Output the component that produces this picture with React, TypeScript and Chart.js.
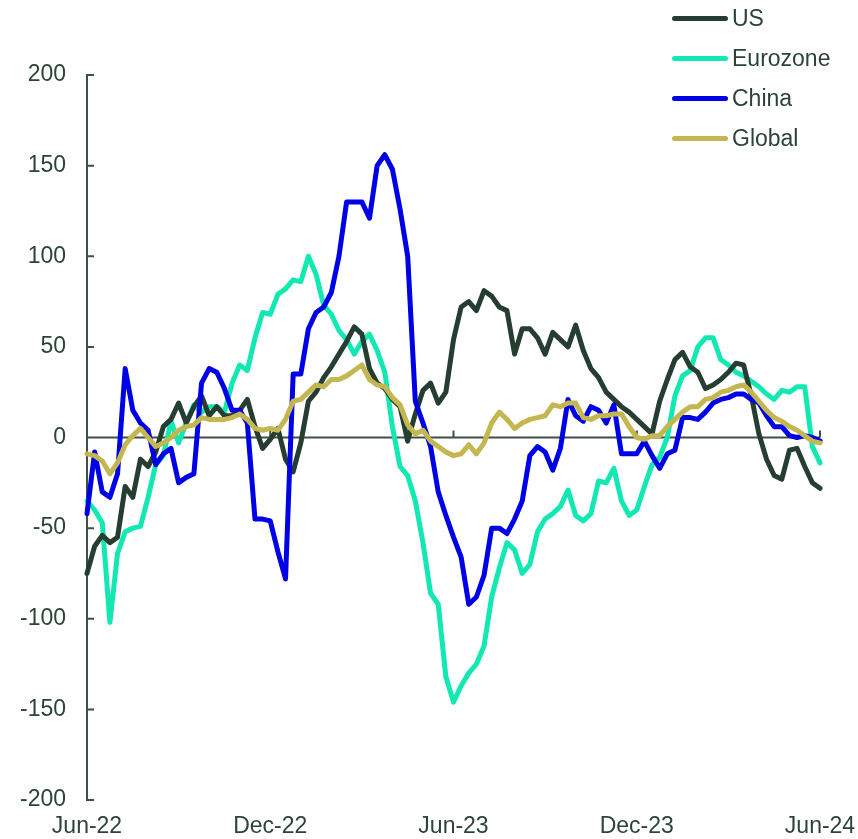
import React, { useEffect, useRef } from "react";
import { Chart, registerables } from "chart.js";

Chart.register(...registerables);

// x positions in months since Jun-22 (quarter-month steps)
const xMonths: number[] = Array.from({ length: 97 }, (_, i) => i / 4);
const tickMonths = [0, 6, 12, 18, 24];
const tickLabels = ["Jun-22", "Dec-22", "Jun-23", "Dec-23", "Jun-24"];
const yTicks = [-200, -150, -100, -50, 0, 50, 100, 150, 200];

const usValues = [
  -75, -60, -54, -58, -55, -27, -33, -12, -16, -8, 6, 10, 19, 8, 17, 23, 12, 17, 12, 12,
  15, 21, 6, -6, -1, 5, -12, -19, -3, 20, 25, 33, 39, 46, 53, 61, 57, 38, 30, 27,
  21, 17, -2, 13, 26, 30, 19, 25, 54, 72, 75, 70, 81, 78, 72, 70, 46, 60, 60, 55,
  46, 58, 54, 50, 62, 48, 38, 33, 25, 21, 17, 14, 10, 6, 2, 20, 32, 43, 47, 39,
  36, 27, 29, 32, 36, 41, 40, 23, 2, -12, -21, -23, -7, -6, -16, -25, -28,
];

const eurozoneValues = [
  -35, -40, -47, -102, -64, -52, -50, -49, -33, -15, -10, 9, -3, 8, 18, 14, 17, 17, 14, 30,
  40, 37, 55, 69, 68, 79, 82, 87, 86, 100, 90, 73, 68, 59, 54, 46, 53, 57, 48, 36,
  6, -16, -21, -35, -58, -86, -92, -132, -146, -137, -130, -125, -115, -88, -72, -58, -62, -75, -70, -52,
  -45, -42, -38, -29, -43, -46, -42, -24, -25, -17, -35, -43, -40, -27, -15, -11, 0, 23, 34, 37,
  50, 55, 55, 43, 40, 36, 34, 31, 28, 24, 21, 26, 25, 28, 28, -5, -14,
];

const chinaValues = [
  -42, -8, -30, -33, -20, 38, 15, 8, 4, -15, -9, -6, -25, -22, -20, 30, 38, 36, 27, 15,
  15, 8, -45, -45, -46, -63, -78, 35, 35, 60, 69, 72, 80, 100, 130, 130, 130, 121, 150, 156,
  148, 126, 100, 20, 8, -5, -30, -43, -55, -66, -92, -88, -76, -50, -50, -53, -45, -35, -10, -5,
  -8, -18, -6, 21, 12, 9, 17, 15, 8, 18, -9, -9, -9, -2, -10, -17, -9, -7, 11, 11,
  10, 14, 19, 21, 22, 24, 24, 21, 19, 12, 6, 6, 1, 0, 1, 0, -2,
];

const globalValues = [
  -9, -10, -13, -20, -14, -4, 1, 5, 0, -5, -3, 0, 4, 6, 7, 11, 10, 10, 10, 11,
  13, 10, 5, 4, 5, 4, 10, 20, 21, 25, 29, 28, 32, 32, 34, 37, 40, 32, 29, 28,
  22, 18, 7, 2, 4, -2, -5, -8, -10, -9, -4, -9, -3, 8, 14, 10, 5, 8, 10, 11,
  12, 18, 17, 19, 19, 11, 10, 12, 12, 13, 13, 6, 0, -1, 1, 1, 6, 10, 14, 17,
  17, 21, 22, 25, 26, 28, 29, 25, 20, 15, 11, 9, 6, 4, 1, -2, -3,
];

const seriesNames = ["US", "Eurozone", "China", "Global"];
const seriesColors = ["#263d31", "#12e8b2", "#0000e6", "#c4b650"];
const seriesOrder = [2, 3, 1, 0];
const seriesValues = [usValues, eurozoneValues, chinaValues, globalValues];

const textColor = "#2b4437";
const axisColor = "#3d5047";
const fontFamily = "'Liberation Sans', Arial, sans-serif";

const axisDecor = {
  id: "axisDecor",
  beforeDatasetsDraw(chart: any) {
    const { ctx, chartArea, scales } = chart;
    const x = scales.x;
    const y = scales.y;
    const y0 = y.getPixelForValue(0);
    ctx.save();
    ctx.strokeStyle = axisColor;
    ctx.lineWidth = 2;
    ctx.beginPath();
    ctx.moveTo(chartArea.left, y0);
    ctx.lineTo(x.getPixelForValue(24), y0);
    for (const t of tickMonths) {
      if (t === 0) continue;
      const px = x.getPixelForValue(t);
      ctx.moveTo(px, y0);
      ctx.lineTo(px, y0 - 7);
    }
    for (const v of yTicks) {
      const py = y.getPixelForValue(v);
      ctx.moveTo(chartArea.left, py);
      ctx.lineTo(chartArea.left + 7, py);
    }
    ctx.stroke();
    ctx.restore();
  },
};

export default function App() {
  const canvasRef = useRef<HTMLCanvasElement | null>(null);

  useEffect(() => {
    if (!canvasRef.current) return;
    const chart = new Chart(canvasRef.current, {
      type: "line",
      data: {
        datasets: seriesNames.map((name, k) => ({
          label: name,
          data: xMonths.map((m, i) => ({ x: m, y: seriesValues[k][i] })),
          borderColor: seriesColors[k],
          backgroundColor: seriesColors[k],
          borderWidth: 5,
          pointRadius: 0,
          tension: 0,
          borderJoinStyle: "round" as const,
          borderCapStyle: "round" as const,
          order: seriesOrder[k],
          clip: false as any,
        })),
      },
      options: {
        responsive: false,
        animation: false,
        events: [],
        layout: { padding: { top: 75, right: 38, bottom: 0, left: 0 } },
        plugins: {
          legend: { display: false },
          tooltip: { enabled: false },
        },
        scales: {
          x: {
            type: "linear",
            min: 0,
            max: 24,
            afterFit: (s: any) => {
              s.height = 39;
              s.paddingLeft = 0;
              s.paddingRight = 0;
            },
            afterBuildTicks: (s: any) => {
              s.ticks = tickMonths.map((v) => ({ value: v }));
            },
            ticks: {
              callback: (v: any) => {
                const idx = tickMonths.indexOf(Number(v));
                return idx >= 0 ? tickLabels[idx] : "";
              },
              color: textColor,
              font: { family: fontFamily, size: 23 },
              padding: 13,
              maxRotation: 0,
              autoSkip: false,
            },
            grid: { display: false, drawTicks: false },
            border: { display: false },
          },
          y: {
            type: "linear",
            min: -200,
            max: 200,
            afterFit: (s: any) => {
              s.width = 87;
              s.paddingTop = 0;
              s.paddingBottom = 0;
            },
            afterBuildTicks: (s: any) => {
              s.ticks = yTicks.map((v) => ({ value: v }));
            },
            ticks: {
              color: textColor,
              font: { family: fontFamily, size: 23 },
              padding: 21,
            },
            grid: { display: false, drawTicks: false },
            border: { display: true, color: axisColor, width: 2 },
          },
        },
      },
      plugins: [axisDecor],
    });
    return () => chart.destroy();
  }, []);

  return (
    <div
      style={{
        position: "fixed",
        left: 0,
        top: 0,
        width: 858,
        height: 839,
        background: "#ffffff",
      }}
    >
      <canvas ref={canvasRef} width={858} height={839} style={{ display: "block" }} />
      {seriesNames.map((name, k) => (
        <div
          key={name}
          style={{
            position: "absolute",
            left: 672,
            top: 18 + k * 40 - 15,
            height: 30,
            display: "flex",
            alignItems: "center",
            fontFamily,
            fontSize: 23,
            color: textColor,
            whiteSpace: "nowrap",
          }}
        >
          <span
            style={{
              display: "inline-block",
              width: 56,
              height: 5,
              borderRadius: 3,
              background: seriesColors[k],
              marginRight: 4,
            }}
          />
          <span>{name}</span>
        </div>
      ))}
    </div>
  );
}
